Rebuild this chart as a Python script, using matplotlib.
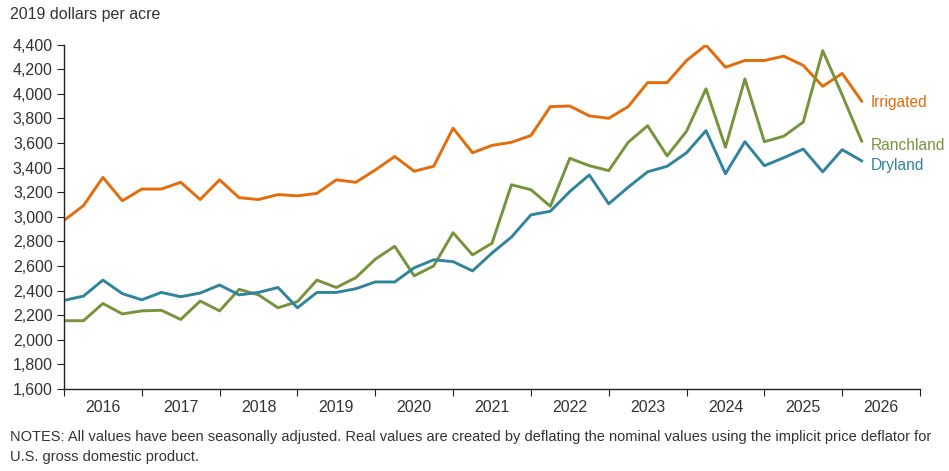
import numpy as np
import matplotlib
matplotlib.use("Agg")
import matplotlib.pyplot as plt
from matplotlib.ticker import FixedLocator, FuncFormatter

plt.rcParams['font.family'] = ['Liberation Sans', 'DejaVu Sans']

# quarterly values, 2016Q1 onwards
irrigated = [2970, 3090, 3320, 3130, 3225, 3225, 3280, 3140, 3300, 3155, 3140, 3180,
             3170, 3190, 3300, 3280, 3380, 3490, 3370, 3410, 3720, 3520, 3580, 3605,
             3660, 3895, 3900, 3820, 3800, 3895, 4090, 4090, 4270, 4395, 4215, 4270,
             4270, 4305, 4230, 4060, 4165, 3940]
ranchland = [2155, 2155, 2295, 2210, 2235, 2240, 2165, 2315, 2235, 2410, 2365, 2260,
             2310, 2485, 2425, 2505, 2655, 2760, 2520, 2600, 2870, 2690, 2785, 3260,
             3220, 3085, 3475, 3415, 3375, 3605, 3740, 3495, 3695, 4040, 3565, 4120,
             3610, 3655, 3770, 4350, 3990, 3615]
dryland = [2320, 2355, 2485, 2375, 2325, 2385, 2350, 2380, 2445, 2365, 2385, 2425,
           2260, 2385, 2385, 2415, 2470, 2470, 2585, 2650, 2635, 2560, 2705, 2835,
           3015, 3045, 3205, 3340, 3105, 3240, 3365, 3410, 3520, 3700, 3350, 3610,
           3415, 3480, 3550, 3365, 3545, 3455]
years = list(range(2016, 2027))

c_irr = '#E46C0A'
c_ran = '#77933C'
c_dry = '#31849B'
txt = '#333333'

x = 2016 + np.arange(len(irrigated)) / 4

fig = plt.figure(figsize=(9.49, 4.71), dpi=100)
ax = fig.add_axes([64/949, 1-389/471, (920-64)/949, (389-44.5)/471])

ax.plot(x, irrigated, color=c_irr, lw=2.1)
ax.plot(x, ranchland, color=c_ran, lw=2.1)
ax.plot(x, dryland, color=c_dry, lw=2.1)

ax.set_xlim(2016, 2027)
ax.set_ylim(1600, 4400)
ax.set_yticks(np.arange(1600, 4401, 200))
ax.yaxis.set_major_formatter(FuncFormatter(lambda v, p: f'{int(v):,}'))

# year boundaries as ticks, labels centred in each year
ax.xaxis.set_major_locator(FixedLocator(years + [2027]))
ax.xaxis.set_minor_locator(FixedLocator([y + 0.5 for y in years]))
ax.set_xticklabels([])
ax.set_xticklabels([str(y) for y in years], minor=True)
ax.tick_params(axis='x', which='major', length=5, direction='out', color='#222222')
ax.tick_params(axis='x', which='minor', length=0, pad=8, labelsize=11.5, labelcolor=txt)
ax.tick_params(axis='y', length=5, direction='out', color='#222222', labelsize=11.5,
               labelcolor=txt, pad=3)

for s in ['top', 'right']:
    ax.spines[s].set_visible(False)
for s in ['left', 'bottom']:
    ax.spines[s].set_color('#222222')
    ax.spines[s].set_linewidth(1)

# series labels
ax.text(2026.37, 3927, 'Irrigated', color=c_irr, fontsize=11.2, va='center', ha='left',
        clip_on=False)
ax.text(2026.37, 3577, 'Ranchland', color=c_ran, fontsize=11.2, va='center', ha='left',
        clip_on=False)
ax.text(2026.37, 3414, 'Dryland', color=c_dry, fontsize=11.2, va='center', ha='left',
        clip_on=False)

fig.text(10/949, 1-14/471, '2019 dollars per acre', color=txt, fontsize=11.5,
         va='center', ha='left')
fig.text(10/949, 1-437/471,
         'NOTES: All values have been seasonally adjusted. Real values are created by '
         'deflating the nominal values using the implicit price deflator for',
         color=txt, fontsize=10.5, va='center', ha='left')
fig.text(10/949, 1-457/471, 'U.S. gross domestic product.', color=txt, fontsize=10.5,
         va='center', ha='left')

fig.savefig('out.png', dpi=100)
